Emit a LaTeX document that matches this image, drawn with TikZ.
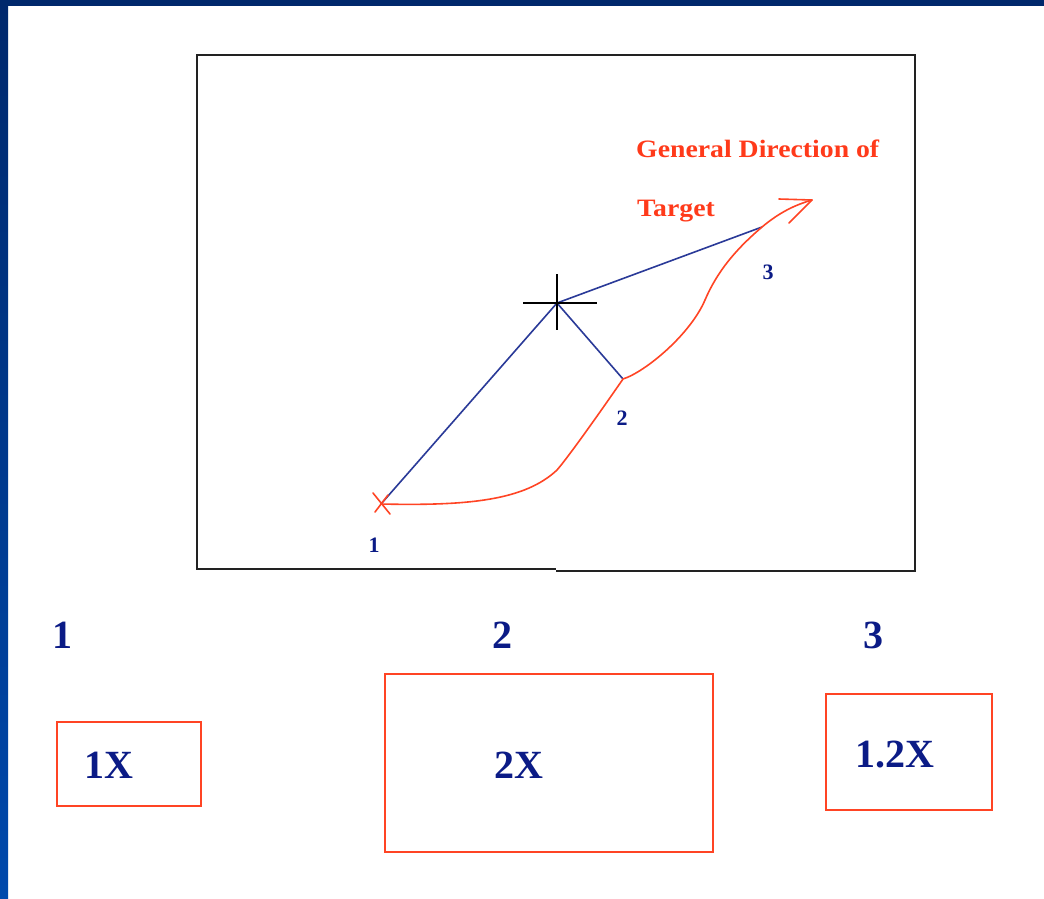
\documentclass[tikz,border=0pt]{standalone}
\usepackage{fontspec}
\setmainfont{Liberation Serif}
\definecolor{bandtop}{HTML}{00286C}
\definecolor{bandbot}{HTML}{0049AC}
\definecolor{navy}{HTML}{0B1B86}
\definecolor{linenavy}{HTML}{2A3A98}
\definecolor{redline}{HTML}{FF4424}
\definecolor{redtext}{HTML}{FF3A1A}
\definecolor{frame}{HTML}{222222}
\tikzset{
  smalllbl/.style={text=navy, font=\bfseries\fontsize{22}{24}\selectfont, inner sep=0pt},
  biglbl/.style={text=navy, font=\bfseries\fontsize{40}{44}\selectfont, inner sep=0pt},
  redlbl/.style={text=redtext, font=\bfseries\fontsize{25}{28}\selectfont, inner sep=0pt},
  redbox/.style={draw=redline, line width=2pt, inner sep=0pt, outer sep=0pt},
  bluepath/.style={draw=linenavy, line width=1.6pt},
  redpath/.style={draw=redline, line width=1.6pt, line join=round, line cap=round},
}
\begin{document}
\begin{tikzpicture}[x=1pt,y=-1pt]
\useasboundingbox (0,0) rectangle (1044,898);
\fill[white] (0,0) rectangle (1044,898);
% slide bands
\fill[bandtop] (0,0) rectangle (1044,6);
\shade[top color=bandtop, bottom color=bandbot] (0,0) rectangle (8,898);

% main frame
\draw[frame, line width=2pt] (556,571) -- (915,571) -- (915,55) -- (197,55) -- (197,569) -- (556,569);

% key points
\coordinate (p1) at (381,504);
\coordinate (p2) at (623,379);
\coordinate (p3) at (762,227);
\coordinate (c)  at (557,303);
\coordinate (tip) at (812,200);
\coordinate (ah1) at (779,199);
\coordinate (ah2) at (789,223);
\coordinate (chl) at (523,303);
\coordinate (chr) at (597,303);
\coordinate (cht) at (557,274);
\coordinate (chb) at (557,330);
\coordinate (xa) at (373,493);
\coordinate (xb) at (390,514);
\coordinate (xc) at (375,512);
\coordinate (xd) at (388,495);

% blue lines
\draw[bluepath] (c) -- (p1);
\draw[bluepath] (c) -- (p2);
\draw[bluepath] (c) -- (p3);

% crosshair
\draw[black, line width=1.6pt] (chl) -- (chr);
\draw[black, line width=1.6pt] (cht) -- (chb);

% red path
\draw[redpath] (p1) .. controls (470,506) and (525,500) .. (557,470)
  .. controls (570,455) and (605,405) .. (p2)
  .. controls (645,372) and (690,335) .. (705,300)
  .. controls (717,272) and (735,250) .. (p3)
  .. controls (780,212) and (795,205) .. (tip);
\draw[redpath] (ah1) -- (tip) -- (ah2);
\draw[redpath] (xa) -- (xb);
\draw[redpath] (xc) -- (xd);

% labels in frame
\node[redlbl, anchor=base west] (gd) at (636,157) {\scalebox{1.11}[1]{General Direction of}};
\node[redlbl, anchor=base west] (tg) at (637,216) {\scalebox{1.11}[1]{Target}};
\node[smalllbl] (l1) at (374,545) {1};
\node[smalllbl] (l2) at (622,418) {2};
\node[smalllbl] (l3) at (768,272) {3};

% bottom labels
\node[biglbl] (b1) at (62,635) {1};
\node[biglbl] (b2) at (502,635) {2};
\node[biglbl] (b3) at (873,635) {3};

% boxes
\node[redbox, minimum width=144pt, minimum height=84pt] (box1) at (129,764) {};
\node[redbox, minimum width=328pt, minimum height=178pt] (box2) at (549,763) {};
\node[redbox, minimum width=166pt, minimum height=116pt] (box3) at (909,752) {};
\node[biglbl] (t1) at (109,765) {1X};
\node[biglbl] (t2) at (519,765) {2X};
\node[biglbl] (t3) at (895,755) {1.2X};
\end{tikzpicture}
\end{document}
